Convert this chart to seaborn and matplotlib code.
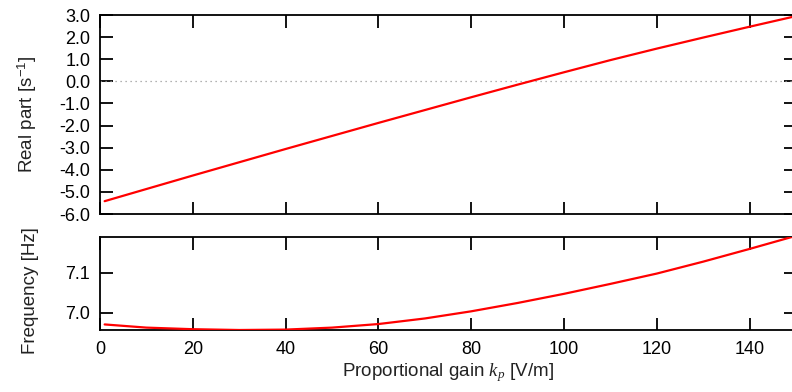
import numpy as np
import pandas as pd
import matplotlib
matplotlib.use("Agg")
import matplotlib.pyplot as plt
import seaborn as sns

# Data
kp = [1, 10, 20, 30, 40, 50, 60, 70, 80, 90, 100, 110, 120, 130, 140, 150]
real_part = [-5.42, -4.87, -4.26, -3.66, -3.06, -2.47, -1.88, -1.30, -0.72,
             -0.15, 0.41, 0.96, 1.48, 1.98, 2.47, 2.95]
frequency = [6.970, 6.962, 6.958, 6.956, 6.957, 6.962, 6.971, 6.985, 7.003,
             7.024, 7.047, 7.072, 7.098, 7.128, 7.160, 7.193]
top_yticks = [3.0, 2.0, 1.0, 0.0, -1.0, -2.0, -3.0, -4.0, -5.0, -6.0]
bottom_yticks = [7.0, 7.1]
xticks = [0, 20, 40, 60, 80, 100, 120, 140]

df = pd.DataFrame({"kp": kp, "real": real_part, "freq": frequency})

sns.set_theme(style="ticks")
plt.rcParams["font.family"] = ["Liberation Sans", "DejaVu Sans"]
plt.rcParams["axes.unicode_minus"] = False
plt.rcParams["mathtext.fontset"] = "custom"
plt.rcParams["mathtext.it"] = "Liberation Serif:italic"
plt.rcParams["mathtext.rm"] = "Liberation Sans"

fig = plt.figure(figsize=(7.92, 3.92), dpi=100)
W, H = 792, 392
def rect(x0, y0, x1, y1):
    return [x0 / W, 1 - y1 / H, (x1 - x0) / W, (y1 - y0) / H]

ax1 = fig.add_axes(rect(100, 15, 796, 214))
ax2 = fig.add_axes(rect(100, 237, 796, 330))

TICK_FS = 13
LABEL_FS = 13.5

for ax in (ax1, ax2):
    for s in ax.spines.values():
        s.set_linewidth(1.3)
        s.set_color("black")
    ax.tick_params(direction="in", length=9, width=1.3, top=True, right=True,
                   labelsize=TICK_FS, colors="black")
    ax.tick_params(axis="y", pad=7)
    ax.tick_params(axis="x", pad=8)
    ax.set_xlim(0, 150)
    ax.set_xticks(xticks)

ax1.axhline(0, color="#999999", lw=0.9, ls=(0, (1, 3)), zorder=1)
sns.lineplot(data=df, x="kp", y="real", ax=ax1, color="red", lw=1.6,
             sort=False, zorder=3)
ax1.set_ylim(-6.0, 3.0)
ax1.set_yticks(top_yticks)
ax1.set_yticklabels([f"{v:.1f}" for v in top_yticks])
ax1.set_xticklabels([])
ax1.set_xlabel("")
ax1.set_ylabel("Real part [s$^{-1}$]", fontsize=LABEL_FS, color="#222222")
ax1.yaxis.set_label_coords(-0.088, 0.5)

sns.lineplot(data=df, x="kp", y="freq", ax=ax2, color="red", lw=1.6,
             sort=False, zorder=3)
ax2.set_ylim(6.956, 7.19)
ax2.set_yticks(bottom_yticks)
ax2.set_yticklabels([f"{v:.1f}" for v in bottom_yticks])
ax2.set_xticklabels([str(v) for v in xticks])
ax2.set_ylabel("Frequency [Hz]", fontsize=LABEL_FS, color="#222222")
ax2.yaxis.set_label_coords(-0.088, 0.42)
ax2.set_xlabel("Proportional gain $k_p$ [V/m]", fontsize=LABEL_FS, color="#222222")
ax2.xaxis.set_label_coords(0.5, -0.33)

fig.savefig("out.png", dpi=100, facecolor="white")
